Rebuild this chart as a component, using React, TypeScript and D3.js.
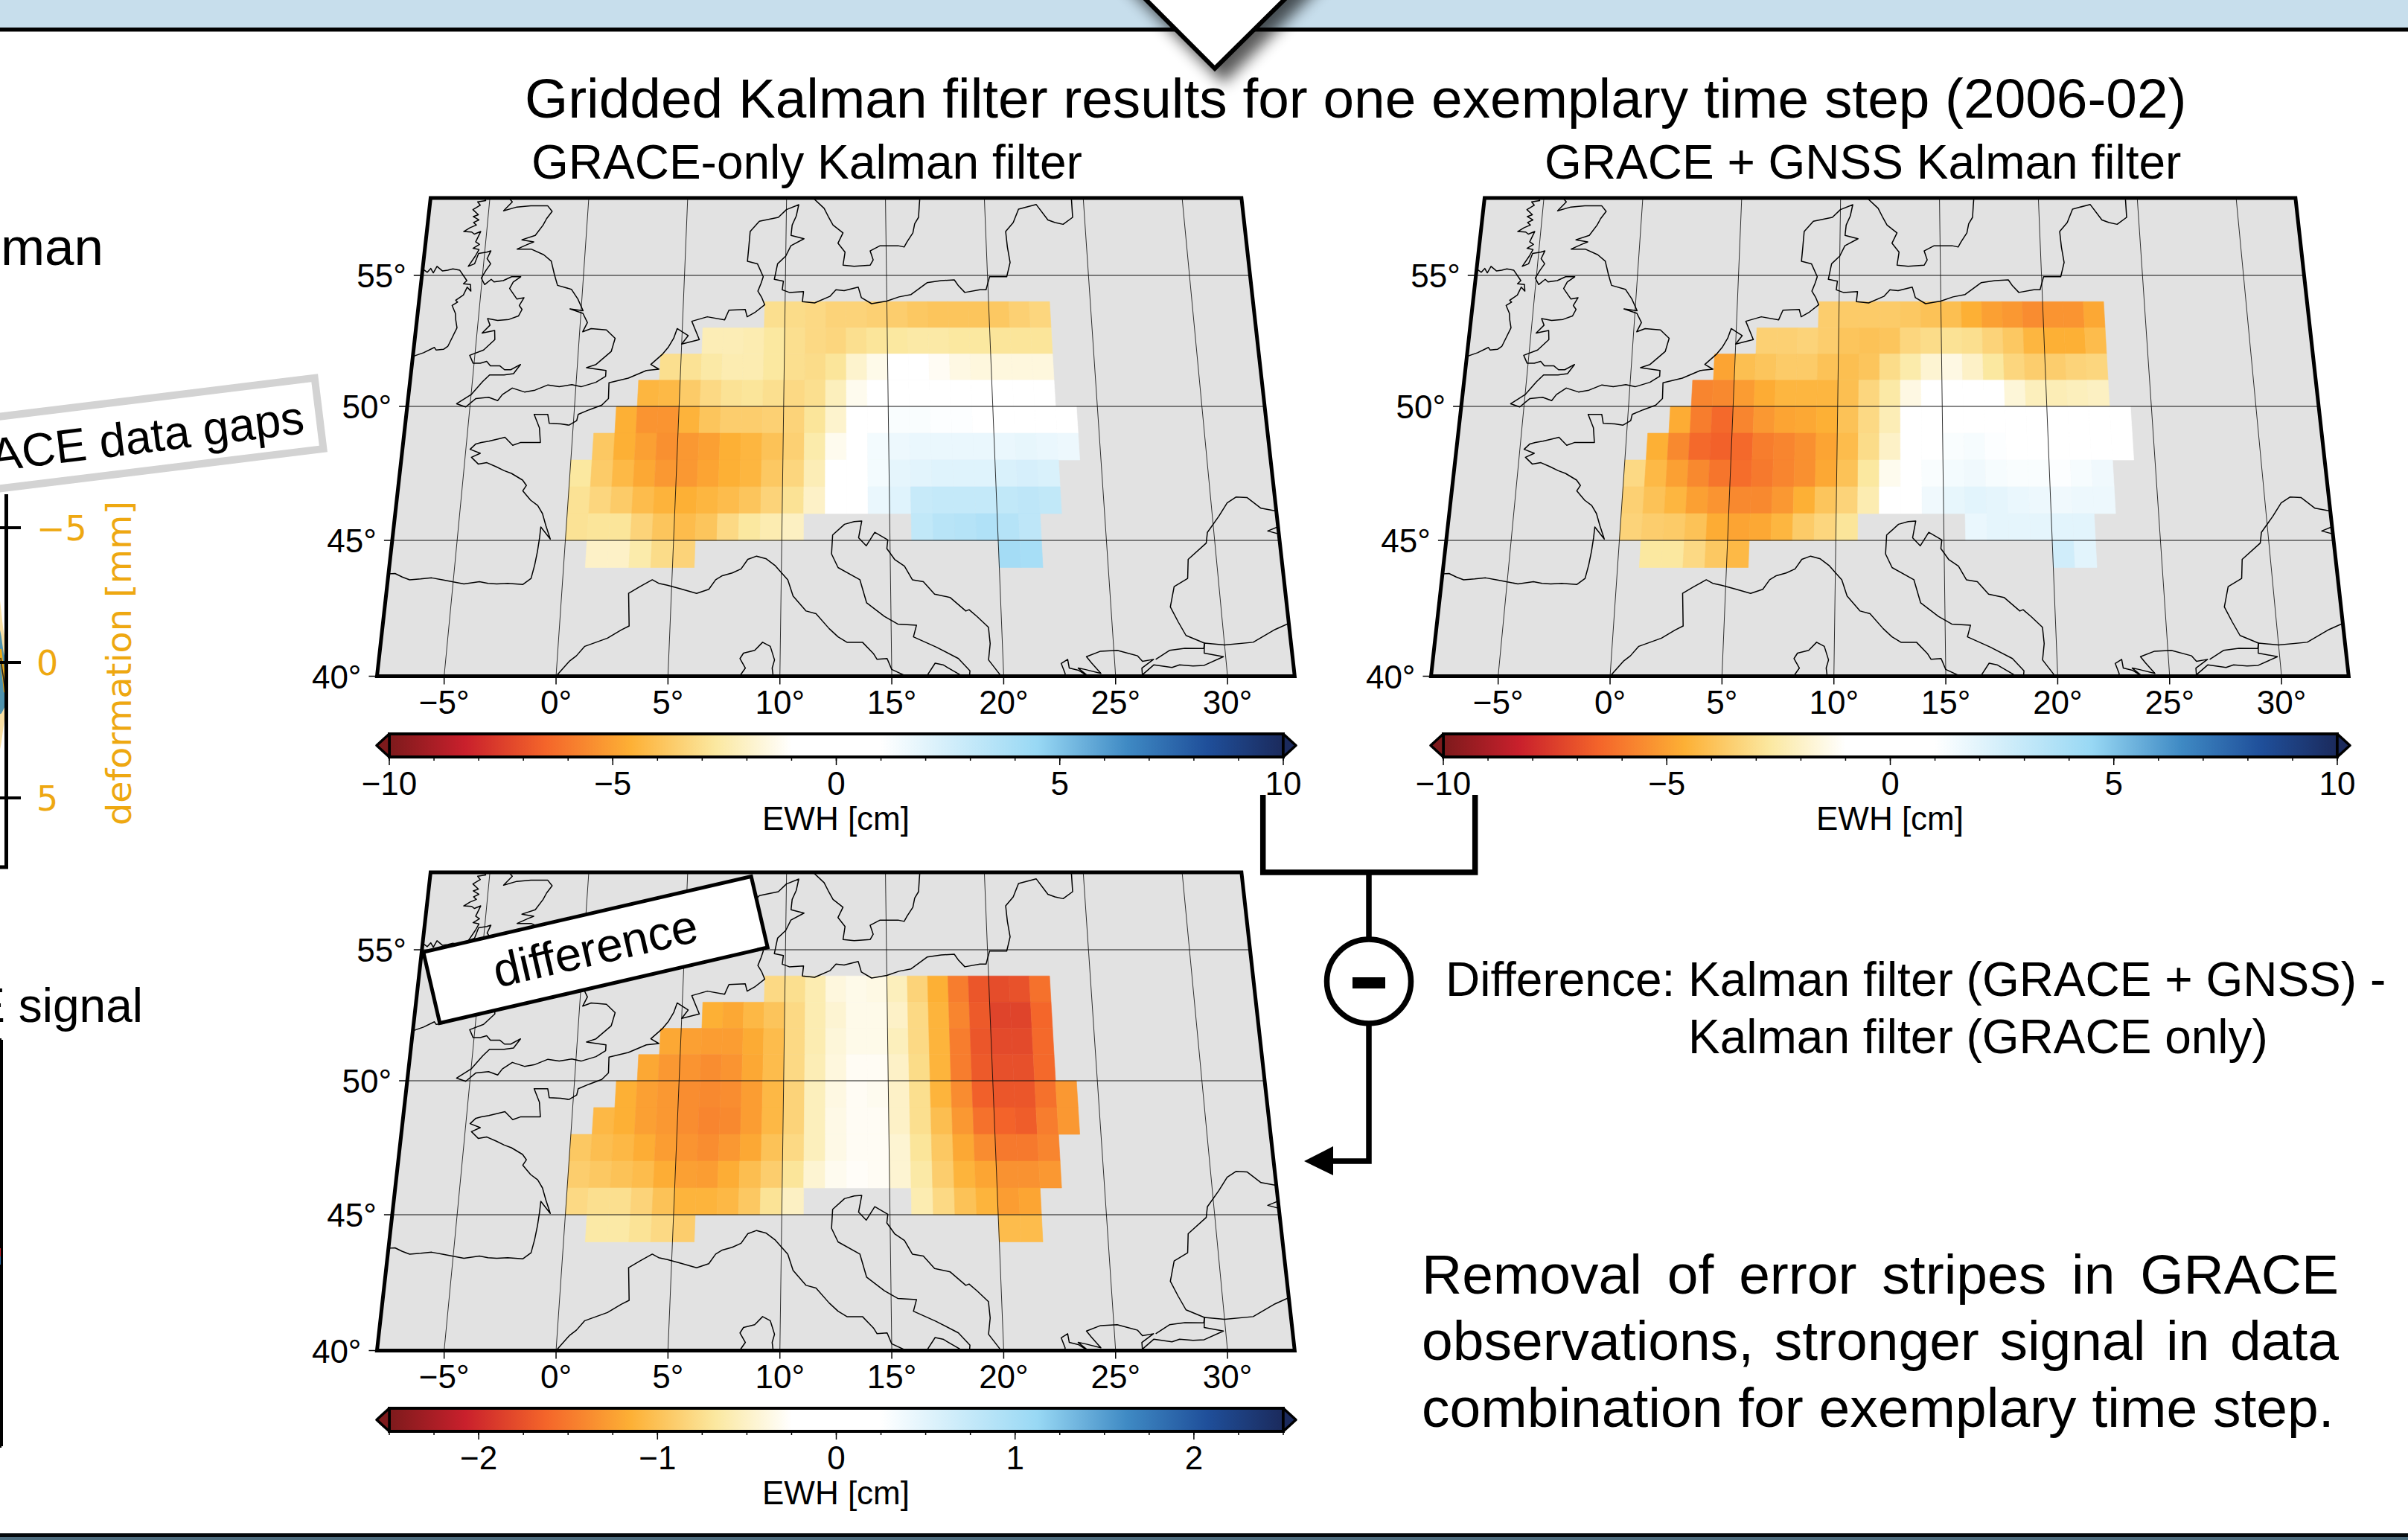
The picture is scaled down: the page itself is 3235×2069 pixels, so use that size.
import React, { useEffect, useRef } from 'react';
import * as d3 from 'd3';

const WIDTH = 3235;
const HEIGHT = 2069;
const FONT = '"Liberation Sans", Arial, sans-serif';

// map axes
const lonTicks = [-5, 0, 5, 10, 15, 20, 25, 30];
const latTicks = [55, 50, 45, 40];
const lonRange = [-8, 33];
const latTop = 58;

// colour table, values for the +-10 cm bar
const cptValues = [-10, -8.3, -6.5, -4.6, -2.7, -1, 1, 4.5, 6.5, 8.3, 10];
const cptColors = ['#7d1a1c', '#c9202c', '#f4652a', '#fdb035', '#fbe8a0', '#ffffff', '#ffffff', '#98d8f4', '#3f8ac4', '#1f4f9a', '#1b2a5c'];

// 1 degree grid: bottom latitude of each row, and [first lon, cell count] runs
const gridLats = [53, 52, 51, 50, 49, 48, 47, 46, 45, 44];
const gridRuns = [
  [[9, 14]],
  [[6, 17]],
  [[4, 19]],
  [[3, 20]],
  [[2, 22]],
  [[1, 23]],
  [[0, 23]],
  [[0, 23]],
  [[0, 11], [16, 6]],
  [[1, 5], [20, 2]],
];

const graceOnly = [
  [-3.0, -3.1, -3.2, -3.4, -3.4, -3.5, -3.6, -3.8, -3.9, -3.9, -3.9, -3.8, -3.5, -3.3],
  [-2.3, -2.3, -2.4, -2.7, -3.0, -3.2, -3.3, -3.0, -2.8, -2.7, -2.6, -2.6, -2.7, -2.7, -2.8, -2.8, -2.8],
  [-3.0, -2.9, -2.6, -2.4, -2.4, -2.7, -3.0, -3.1, -2.8, -1.9, -1.4, -0.9, -0.9, -1.2, -1.5, -1.6, -1.6, -1.6, -1.6],
  [-4.4, -4.3, -3.7, -3.2, -2.9, -2.8, -3.0, -3.2, -3.0, -2.2, -1.3, -0.9, -0.5, -0.3, -0.2, -0.2, -0.2, 0, 0, 0],
  [-4.6, -5.3, -5.3, -4.5, -3.9, -3.6, -3.6, -3.5, -3.4, -2.8, -1.9, -0.6, 0.5, 1.2, 1.2, 1.1, 1.1, 1.0, 0.8, 1.0, 1.0, 0.8],
  [-3.8, -4.6, -5.0, -5.4, -5.2, -5.0, -4.6, -4.4, -4.0, -3.5, -2.5, -1.3, -0.5, 1.4, 1.6, 1.7, 1.7, 1.7, 1.7, 1.7, 1.8, 1.7, 1.6],
  [-2.7, -3.7, -4.3, -4.8, -5.2, -5.2, -4.9, -4.6, -4.4, -3.8, -3.3, -2.3, 0, 0.5, 1.4, 1.9, 2.0, 2.1, 2.1, 2.1, 2.3, 2.4, 2.3],
  [-2.9, -3.3, -3.7, -4.2, -4.5, -4.6, -4.4, -4.2, -3.9, -3.4, -2.9, -2.0, 0, 0.5, 1.7, 2.1, 2.9, 3.0, 3.0, 3.0, 3.1, 3.2, 3.1],
  [-2.9, -2.8, -2.8, -3.4, -3.9, -4.2, -3.9, -3.2, -2.7, -2.4, -2.1, 3.1, 3.4, 3.5, 3.7, 3.5, 3.2],
  [-2.0, -2.0, -2.5, -3.1, -3.4, 4.1, 4.0],
];

const graceGnss = [
  [-3.6, -3.7, -3.7, -3.7, -3.8, -4.0, -4.1, -4.6, -5.0, -5.2, -5.5, -5.3, -5.3, -4.8],
  [-3.5, -3.5, -3.4, -3.6, -3.9, -4.0, -3.9, -3.3, -3.1, -2.9, -3.0, -3.4, -3.8, -4.4, -4.6, -4.6, -4.2],
  [-4.9, -4.1, -3.9, -3.7, -3.7, -4.0, -4.1, -3.9, -3.1, -2.5, -1.8, -1.5, -2.0, -2.7, -3.3, -3.6, -3.6, -3.4, -3.3],
  [-5.7, -5.6, -5.1, -4.7, -4.4, -4.4, -4.4, -4.1, -3.3, -2.6, -1.5, -0.8, -0.4, -0.5, -0.9, -1.7, -2.2, -2.3, -2.2, -2.1],
  [-4.7, -5.9, -6.4, -5.7, -5.2, -4.9, -4.8, -4.6, -4.0, -3.2, -2.3, 0, 0, 0, 0, 0, 0, 0, 0, 0, 0, 0],
  [-4.6, -5.6, -6.4, -6.6, -6.4, -5.9, -5.7, -5.4, -4.9, -4.2, -3.1, -2.0, 0, 0.2, 1.2, 1.3, 1.1, 0.3, 0, 0, 0, 0, 0],
  [-3.2, -4.3, -5.0, -5.6, -6.1, -6.3, -6.0, -5.7, -5.4, -4.8, -4.0, -2.7, -1.3, 0, 1.2, 1.4, 1.5, 1.3, 1.2, 1.2, 1.1, 1.3, 1.5],
  [-3.5, -4.0, -4.4, -5.0, -5.3, -5.6, -5.6, -5.2, -4.6, -3.9, -3.4, -2.4, 0, 0, 1.5, 1.8, 2.0, 1.9, 1.7, 1.6, 1.5, 1.6, 1.6],
  [-3.4, -3.6, -3.7, -4.0, -4.7, -4.9, -4.8, -4.4, -3.7, -3.3, -2.8, 1.7, 1.9, 1.9, 1.9, 2.0, 2.0],
  [-2.7, -2.7, -3.2, -3.8, -4.3, 2.6, 2.0],
];

const differenceGrid = [
  [-0.8, -0.75, -0.6, -0.4, -0.35, -0.37, -0.55, -0.85, -1.15, -1.47, -1.72, -1.78, -1.75, -1.55],
  [-1.15, -1.2, -1.08, -0.98, -0.8, -0.6, -0.45, -0.35, -0.35, -0.5, -0.8, -1.12, -1.42, -1.7, -1.84, -1.84, -1.62],
  [-1.2, -1.25, -1.27, -1.27, -1.18, -1.05, -0.8, -0.6, -0.42, -0.35, -0.35, -0.55, -0.8, -1.12, -1.47, -1.72, -1.8, -1.8, -1.6],
  [-1.2, -1.3, -1.33, -1.37, -1.33, -1.2, -1.05, -0.8, -0.58, -0.4, -0.3, -0.3, -0.5, -0.78, -1.12, -1.47, -1.7, -1.76, -1.76, -1.6],
  [-1.15, -1.25, -1.3, -1.37, -1.4, -1.37, -1.27, -1.08, -0.85, -0.55, -0.38, -0.3, -0.32, -0.5, -0.75, -1.12, -1.38, -1.66, -1.72, -1.72, -1.55, -1.3],
  [-1.08, -1.15, -1.25, -1.3, -1.37, -1.42, -1.4, -1.27, -1.08, -0.85, -0.55, -0.36, -0.3, -0.3, -0.5, -0.75, -1.03, -1.3, -1.55, -1.64, -1.68, -1.47, -1.3],
  [-0.95, -1.03, -1.08, -1.17, -1.27, -1.33, -1.37, -1.3, -1.2, -1.0, -0.8, -0.55, -0.36, -0.3, -0.3, -0.45, -0.7, -0.95, -1.2, -1.38, -1.5, -1.5, -1.42],
  [-0.9, -0.95, -1.0, -1.05, -1.17, -1.25, -1.27, -1.17, -1.03, -0.9, -0.7, -0.45, -0.32, -0.28, -0.3, -0.45, -0.65, -0.9, -1.12, -1.22, -1.34, -1.34, -1.3],
  [-0.8, -0.75, -0.75, -0.85, -1.0, -1.12, -1.12, -1.08, -0.95, -0.72, -0.52, -0.6, -0.8, -1.0, -1.12, -1.27, -1.22],
  [-0.65, -0.65, -0.72, -0.8, -0.9, -1.05, -1.05],
];

// coastlines, [lon, lat]
const coastIreland = [[-8.3, 55.15], [-7.9, 55.2], [-7.75, 55.12], [-7.6, 55.27], [-7.45, 55.1], [-7.3, 55.35], [-7.0, 55.17], [-6.75, 55.2], [-6.5, 55.25], [-6.15, 55.2], [-5.95, 55.0], [-5.75, 54.8], [-5.9, 54.68], [-5.55, 54.65], [-5.5, 54.4], [-5.7, 54.55], [-5.85, 54.25], [-6.2, 54.05], [-6.1, 53.98], [-6.35, 53.85], [-6.15, 53.55], [-6.1, 53.3], [-6.0, 53.0], [-6.2, 52.6], [-6.35, 52.3], [-6.55, 52.18], [-6.9, 52.15], [-7.0, 52.25], [-7.5, 52.05], [-7.85, 51.95], [-8.3, 51.8]];
const coastBritain = [[-5.35, 58.1], [-5.2, 57.9], [-5.6, 57.85], [-5.45, 57.72], [-5.8, 57.55], [-5.5, 57.35], [-5.75, 57.28], [-5.45, 57.15], [-5.7, 57.05], [-5.55, 56.95], [-5.85, 56.85], [-6.15, 56.7], [-5.75, 56.68], [-5.6, 56.6], [-5.3, 56.7], [-5.5, 56.3], [-5.3, 56.2], [-5.6, 56.05], [-5.3, 56.0], [-5.45, 55.75], [-5.75, 55.35], [-5.45, 55.45], [-5.3, 55.85], [-4.9, 55.9], [-4.7, 55.95], [-4.85, 55.65], [-4.65, 55.45], [-4.85, 55.2], [-5.05, 54.9], [-4.85, 54.65], [-4.55, 54.85], [-4.4, 54.75], [-3.95, 54.8], [-3.55, 54.95], [-3.1, 54.95], [-3.45, 54.75], [-3.6, 54.5], [-3.2, 54.1], [-2.85, 54.15], [-3.05, 53.85], [-2.9, 53.7], [-3.05, 53.45], [-3.5, 53.32], [-4.05, 53.28], [-4.55, 53.35], [-4.4, 53.1], [-4.75, 52.8], [-4.15, 52.9], [-4.1, 52.55], [-4.6, 52.15], [-5.25, 51.95], [-5.05, 51.65], [-4.7, 51.65], [-4.4, 51.72], [-4.2, 51.55], [-3.75, 51.55], [-3.5, 51.4], [-3.2, 51.4], [-2.75, 51.6], [-3.05, 51.25], [-3.5, 51.2], [-4.2, 51.2], [-4.5, 50.95], [-5.0, 50.45], [-5.65, 50.1], [-5.2, 49.98], [-4.75, 50.3], [-4.15, 50.35], [-3.7, 50.22], [-3.5, 50.45], [-3.05, 50.7], [-2.45, 50.55], [-1.95, 50.62], [-1.35, 50.82], [-0.8, 50.75], [-0.2, 50.83], [0.25, 50.75], [0.95, 50.92], [1.4, 51.15], [1.4, 51.37], [0.7, 51.45], [0.45, 51.48], [0.9, 51.6], [1.25, 51.85], [1.6, 52.1], [1.75, 52.6], [1.3, 52.92], [0.55, 52.97], [0.15, 52.85], [0.35, 53.2], [0.1, 53.55], [-0.55, 53.72], [0.1, 53.65], [-0.2, 54.1], [-0.55, 54.47], [-1.25, 54.62], [-1.45, 55.05], [-1.65, 55.55], [-2.05, 55.8], [-2.7, 56.02], [-3.4, 56.02], [-2.9, 56.2], [-2.6, 56.3], [-3.2, 56.38], [-2.55, 56.55], [-2.2, 56.95], [-2.05, 57.2], [-1.8, 57.48], [-2.05, 57.7], [-2.9, 57.7], [-3.6, 57.65], [-4.25, 57.5], [-3.85, 57.85], [-4.1, 58.05]];
const coastAtlantic = [[-8.4, 43.75], [-7.7, 43.78], [-7.35, 43.65], [-7.0, 43.55], [-6.5, 43.58], [-6.0, 43.62], [-5.5, 43.55], [-5.0, 43.47], [-4.5, 43.4], [-3.8, 43.48], [-3.4, 43.42], [-3.0, 43.4], [-2.5, 43.42], [-1.8, 43.38], [-1.45, 43.6], [-1.33, 44.1], [-1.25, 44.6], [-1.2, 45.1], [-1.18, 45.5], [-0.7, 45.05], [-0.95, 45.55], [-1.15, 46.0], [-1.4, 46.3], [-1.75, 46.5], [-2.15, 46.85], [-2.0, 47.05], [-2.2, 47.25], [-2.75, 47.5], [-3.1, 47.6], [-3.5, 47.75], [-3.95, 47.9], [-4.35, 47.85], [-4.7, 48.1], [-4.3, 48.25], [-4.8, 48.4], [-4.55, 48.6], [-4.3, 48.65], [-3.95, 48.7], [-3.55, 48.78], [-3.2, 48.85], [-2.8, 48.55], [-2.45, 48.65], [-2.1, 48.65], [-1.5, 48.65], [-1.6, 49.2], [-1.9, 49.7], [-1.25, 49.7], [-1.15, 49.37], [-0.6, 49.35], [-0.2, 49.3], [0.15, 49.47], [0.2, 49.7], [0.7, 49.87], [1.3, 50.05], [1.6, 50.3], [1.58, 50.9], [2.5, 51.08], [3.35, 51.37], [3.95, 51.42], [3.55, 51.6], [4.1, 52.0], [4.35, 52.25], [4.6, 52.6], [4.75, 52.97], [5.3, 52.7], [5.0, 52.38], [5.85, 52.55], [5.45, 53.25], [6.2, 53.42], [7.05, 53.3], [7.25, 53.67], [8.05, 53.7], [8.15, 53.42], [8.55, 53.6], [9.0, 53.88], [8.85, 54.15], [8.65, 54.4], [8.8, 54.7], [8.9, 54.95], [8.6, 55.45], [8.1, 55.55], [8.15, 56.1], [8.2, 56.7], [8.65, 57.1], [9.6, 57.25], [10.0, 57.55], [10.62, 57.74], [10.5, 57.3], [10.3, 56.95], [10.25, 56.55], [10.9, 56.42], [10.25, 56.15], [10.0, 55.75], [9.6, 55.45], [9.45, 54.85], [9.9, 54.78], [9.85, 54.45], [10.2, 54.35], [10.9, 54.38], [10.85, 54.0], [11.45, 53.95], [12.2, 54.2], [12.5, 54.45], [12.9, 54.42], [13.6, 54.55], [13.75, 54.15], [14.25, 53.92], [15.0, 54.02], [15.6, 54.18], [16.2, 54.27], [17.0, 54.72], [17.7, 54.8], [18.35, 54.83], [18.55, 54.6], [18.85, 54.35], [19.6, 54.45], [19.9, 54.45], [20.1, 54.95], [20.95, 54.95], [21.15, 55.5], [21.05, 56.1], [21.0, 56.7], [21.4, 57.05], [21.7, 57.57], [22.6, 57.75], [23.15, 57.15], [23.5, 57.05], [23.9, 56.98], [24.4, 57.25], [24.4, 58.1]];
const coastSweden = [[11.2, 58.1], [11.9, 57.6], [12.1, 57.3], [12.35, 56.95], [12.85, 56.65], [12.6, 56.25], [12.95, 55.9], [12.85, 55.4], [13.4, 55.35], [14.2, 55.4], [14.35, 55.6], [14.2, 55.95], [14.7, 56.15], [15.6, 56.15], [15.9, 56.1], [16.05, 56.3], [16.35, 56.65], [16.45, 57.0], [16.65, 57.25], [16.7, 57.7], [16.75, 58.1]];
const coastLigurian = [[-0.2, 39.7], [0.0, 40.0], [0.55, 40.55], [0.85, 40.75], [1.2, 41.1], [1.7, 41.25], [2.2, 41.4], [2.8, 41.7], [3.15, 41.85], [3.1, 42.45], [3.05, 43.05], [3.55, 43.3], [4.1, 43.55], [4.4, 43.42], [4.8, 43.35], [5.4, 43.22], [6.15, 43.05], [6.7, 43.2], [7.0, 43.55], [7.3, 43.7], [7.75, 43.8], [8.15, 43.95], [8.45, 44.3], [8.85, 44.42], [9.3, 44.32], [9.7, 44.08], [10.3, 43.55], [10.55, 42.95], [11.15, 42.4], [11.6, 42.3], [12.2, 41.75], [12.6, 41.45], [13.0, 41.25], [13.7, 41.25], [14.2, 40.82], [14.35, 40.62], [14.8, 40.65], [15.0, 40.25], [15.65, 40.0], [15.75, 39.8]];
const coastAdriatic = [[16.55, 39.8], [16.6, 40.05], [16.95, 40.48], [17.3, 40.42], [18.0, 40.08], [18.4, 39.85]];
const coastItalyEast = [[18.45, 39.85], [18.5, 40.2], [18.0, 40.65], [17.0, 41.08], [16.0, 41.45], [16.15, 41.88], [15.3, 41.92], [14.7, 42.2], [13.9, 42.7], [13.6, 43.55], [12.6, 44.0], [12.3, 44.5], [12.35, 45.2], [12.9, 45.6], [13.35, 45.7], [13.7, 45.72], [13.55, 45.1], [13.9, 44.8], [14.3, 45.3], [14.9, 45.02], [14.85, 44.7], [15.2, 44.3], [15.65, 44.05], [16.0, 43.55], [16.5, 43.48], [17.0, 43.02], [17.7, 42.9], [18.4, 42.4], [18.55, 42.45], [18.9, 42.2], [19.4, 41.8], [19.45, 41.2], [19.35, 40.6], [19.8, 40.1], [20.1, 39.7]];
const coastSardinia = [[8.2, 40.0], [8.45, 40.3], [8.2, 40.65], [8.35, 40.85], [8.85, 40.95], [9.2, 41.25], [9.55, 41.1], [9.75, 40.6], [9.65, 40.3], [9.7, 40.0]];
const coastAegean = [[22.7, 39.8], [22.75, 40.1], [22.6, 40.47], [22.9, 40.62], [22.95, 40.3], [23.35, 40.22], [23.85, 39.95], [23.35, 40.3], [23.65, 40.25], [24.35, 40.1], [23.95, 40.5], [23.75, 40.72], [24.4, 40.92], [25.15, 40.95], [26.05, 40.75], [26.25, 40.55], [26.75, 40.62], [26.2, 40.3], [26.2, 39.8]];
const coastMarmara = [[26.2, 40.05], [26.75, 40.42], [27.55, 40.32], [27.9, 40.42], [28.5, 40.38], [29.0, 40.4], [29.9, 40.72], [29.05, 40.85], [29.1, 41.22], [30.0, 41.15], [31.3, 41.25], [32.35, 41.72], [33.3, 42.05]];
const coastThrace = [[26.85, 40.62], [27.5, 40.95], [28.2, 41.03], [29.05, 41.02], [29.1, 41.22], [28.3, 41.5], [28.0, 42.0], [27.7, 42.55], [27.95, 43.3], [28.6, 43.6], [28.7, 44.3], [29.6, 44.9], [29.7, 45.3], [30.3, 45.9], [30.75, 46.4], [31.2, 46.62], [31.7, 46.6], [32.3, 46.2], [33.3, 46.05]];
const coastCrimea = [[33.4, 45.9], [33.0, 45.95], [33.3, 45.6], [32.5, 45.35], [33.4, 45.15]];
const coastlines = [coastIreland, coastBritain, coastAtlantic, coastSweden, coastLigurian, coastAdriatic, coastItalyEast, coastSardinia, coastAegean, coastMarmara, coastThrace, coastCrimea];

// fragments of the neighbouring figure at the left edge
const deformationTicks = [-5, 0, 5];
const edgeTimes = [0, 0.25, 0.5, 0.75, 1];
const edgeAmberLow = [-2.3, -1.9, -1.4, -1.1, -0.9];
const edgeAmberHigh = [3.2, 3.0, 2.6, 2.3, 1.9];
const edgeTealLow = [-1.2, -1.0, -0.6, -0.3, -0.2];
const edgeTealHigh = [1.9, 1.9, 1.8, 1.7, 1.6];
const edgeSeries = [-0.5, -0.1, 0.2, 0.6, 1.1];

const justified = [
  { text: 'Removal of error stripes in GRACE', y: 1738, width: 1232 },
  { text: 'observations, stronger signal in data', y: 1827, width: 1232 },
];

function makeProjection(dx: number, dy: number) {
  const yScale = d3.scaleLinear().domain([40, 45, 50, 55, latTop]).range([908.5, 726, 546, 370, 266]);
  const kScale = d3.scaleLinear().domain([266, 908.5]).range([26.57, 30.07]);
  return (p: number[]): [number, number] => {
    const y = yScale(p[1]);
    return [1125 + (p[0] - 12.57) * kScale(y) + dx, y + dy];
  };
}

const line = d3.line();

function Justified({ text, y, width }: { text: string; y: number; width: number }) {
  const ref = useRef<SVGTextElement>(null);
  useEffect(() => {
    const el = ref.current;
    if (!el) return;
    const spaces = text.split(' ').length - 1;
    el.style.wordSpacing = (width - el.getComputedTextLength()) / spaces + 'px';
  }, [text, width]);
  return (
    <text ref={ref} x={1910} y={y} fontSize={75}>
      {text}
    </text>
  );
}

function MapPanel({ id, dx, dy, grid, scale, barTicks, barMinor }: any) {
  const project = makeProjection(dx, dy);
  const color = d3
    .scaleLinear<string>()
    .domain(cptValues.map((v) => v * scale))
    .range(cptColors)
    .clamp(true);

  const frame = [
    project([lonRange[0], 40]),
    project([lonRange[1], 40]),
    project([lonRange[1], latTop]),
    project([lonRange[0], latTop]),
  ];
  const framePath = line(frame) + 'Z';

  const cells: any[] = [];
  gridLats.forEach((lat, r) => {
    let i = 0;
    gridRuns[r].forEach(([start, count]) => {
      d3.range(count).forEach((c) => {
        const lon = start + c;
        cells.push({
          key: lat + '_' + lon,
          fill: color(grid[r][i]),
          d: line([project([lon, lat]), project([lon + 1, lat]), project([lon + 1, lat + 1]), project([lon, lat + 1])]) + 'Z',
        });
        i += 1;
      });
    });
  });

  const barX = d3.scaleLinear().domain([-10 * scale, 10 * scale]).range([523 + dx, 1724 + dx]);
  const barY0 = 986 + dy;
  const barY1 = 1017 + dy;
  const minorTicks = d3.range(-10 * scale, 10 * scale + 1e-6, barMinor);
  const leftEnd = barX.range()[0];
  const rightEnd = barX.range()[1];

  return (
    <g>
      <defs>
        <clipPath id={'clip' + id}>
          <path d={framePath} />
        </clipPath>
        <linearGradient id={'bar' + id} x1="0" x2="1" y1="0" y2="0">
          {cptValues.map((v, i) => (
            <stop key={i} offset={(v + 10) / 20} stopColor={cptColors[i]} />
          ))}
        </linearGradient>
      </defs>
      <path d={framePath} fill="#e2e2e2" />
      <g clipPath={'url(#clip' + id + ')'}>
        {cells.map((c) => (
          <path key={c.key} d={c.d} fill={c.fill} stroke={c.fill} strokeWidth={0.6} />
        ))}
        {lonTicks.map((lon) => (
          <path key={lon} d={line([project([lon, 40]), project([lon, latTop])]) as string} stroke="#000" strokeWidth={0.8} fill="none" />
        ))}
        {latTicks.slice(0, 3).map((lat) => (
          <path key={lat} d={line([project([lonRange[0], lat]), project([lonRange[1], lat])]) as string} stroke="#111" strokeWidth={1.2} fill="none" />
        ))}
        {coastlines.map((c, i) => (
          <path key={i} d={line(c.map(project)) as string} fill="none" stroke="#000" strokeWidth={1.5} strokeLinejoin="round" />
        ))}
      </g>
      <path d={framePath} fill="none" stroke="#000" strokeWidth={5} />
      {lonTicks.map((lon) => {
        const [x, y] = project([lon, 40]);
        return (
          <g key={lon}>
            <line x1={x} x2={x} y1={y} y2={y + 11} stroke="#000" strokeWidth={1.5} />
            <text x={x} y={y + 50} textAnchor="middle" fontSize={44}>
              {(lon < 0 ? '\u2212' + Math.abs(lon) : lon) + '°'}
            </text>
          </g>
        );
      })}
      {latTicks.map((lat) => {
        const [x, y] = project([lonRange[0], lat]);
        return (
          <g key={lat}>
            <line x1={x - 11} x2={x} y1={y} y2={y} stroke="#000" strokeWidth={1.5} />
            <text x={x - 21} y={y + 16} textAnchor="end" fontSize={44}>
              {lat + '°'}
            </text>
          </g>
        );
      })}

      {/* colour bar */}
      <rect x={leftEnd} y={barY0} width={rightEnd - leftEnd} height={barY1 - barY0} fill={'url(#bar' + id + ')'} stroke="#000" strokeWidth={4} />
      <path d={`M${leftEnd},${barY0}L${leftEnd - 17},${(barY0 + barY1) / 2}L${leftEnd},${barY1}Z`} fill={cptColors[0]} stroke="#000" strokeWidth={3.5} strokeLinejoin="round" />
      <path d={`M${rightEnd},${barY0}L${rightEnd + 17},${(barY0 + barY1) / 2}L${rightEnd},${barY1}Z`} fill={cptColors[cptColors.length - 1]} stroke="#000" strokeWidth={3.5} strokeLinejoin="round" />
      {minorTicks.map((t, i) => (
        <line key={i} x1={barX(t)} x2={barX(t)} y1={barY1} y2={barY1 + 5} stroke="#000" strokeWidth={1.5} />
      ))}
      {barTicks.map((t: number) => (
        <g key={t}>
          <line x1={barX(t)} x2={barX(t)} y1={barY1} y2={barY1 + 11} stroke="#000" strokeWidth={1.5} />
          <text x={barX(t)} y={barY1 + 51} textAnchor="middle" fontSize={44}>
            {t < 0 ? '\u2212' + Math.abs(t) : t}
          </text>
        </g>
      ))}
      <text x={1123 + dx} y={1115 + dy} textAnchor="middle" fontSize={44}>
        EWH [cm]
      </text>
    </g>
  );
}

function EdgeFragments() {
  const yDef = d3.scaleLinear().domain([-5, 0, 5]).range([709, 890, 1072]);
  const xEdge = d3.scaleLinear().domain([0, 1]).range([0, 7]);
  const band = (low: number[], high: number[]) =>
    d3
      .area<number>()
      .x((t) => xEdge(t))
      .y0((_, i) => yDef(low[i]))
      .y1((_, i) => yDef(high[i]))
      .curve(d3.curveBasis)(edgeTimes) as string;
  const series = d3
    .line<number>()
    .x((t) => xEdge(t))
    .y((_, i) => yDef(edgeSeries[i]))(edgeTimes) as string;
  return (
    <g>
      <path d={band(edgeAmberLow, edgeAmberHigh)} fill="#f8dfa4" />
      <path d={band(edgeTealLow, edgeTealHigh)} fill="#4f93ad" />
      <path d={series} fill="none" stroke="#eea811" strokeWidth={4} />
      <path d={series} fill="none" stroke="#222" strokeWidth={1.5} transform="translate(1,12)" />
      <path d="M8.5,664V1165H-5" fill="none" stroke="#000" strokeWidth={5} />
      {deformationTicks.map((t) => (
        <line key={t} x1={-2} x2={28} y1={yDef(t)} y2={yDef(t)} stroke="#000" strokeWidth={4} />
      ))}
      <g fill="#eea811" fontFamily='"DejaVu Sans"' fontSize={46}>
        {deformationTicks.map((t) => (
          <text key={t} x={49} y={yDef(t) + 17}>
            {t < 0 ? '\u2212' + Math.abs(t) : t}
          </text>
        ))}
        <text transform="translate(176,1109) rotate(-90)" textLength={436} lengthAdjust="spacingAndGlyphs">
          deformation [mm]
        </text>
      </g>
      <path d="M2,1397V1943" stroke="#000" strokeWidth={4} fill="none" />
      <path d="M2,1397H-4M2,1943H-4" stroke="#000" strokeWidth={4} fill="none" />
      <path d="M0,1677V1688" stroke="#c9202c" strokeWidth={2} fill="none" />
      <path d="M0,1688V1699" stroke="#2a6fa8" strokeWidth={2} fill="none" />
    </g>
  );
}

export default function App() {
  return (
    <svg width={WIDTH} height={HEIGHT} viewBox={`0 0 ${WIDTH} ${HEIGHT}`} fontFamily={FONT} style={{ position: 'absolute', left: 0, top: 0, background: '#fff' }}>
      <defs>
        <filter id="shadow" x="-30%" y="-30%" width="160%" height="160%">
          <feGaussianBlur stdDeviation="10" />
        </filter>
      </defs>

      {/* header band */}
      <rect x={0} y={0} width={WIDTH} height={38} fill="#c7deec" />
      <rect x={0} y={41} width={WIDTH} height={2} fill="#888" />
      <polygon points="1484,-56 1632,92 1780,-56" fill="#000" opacity={0.65} filter="url(#shadow)" transform="translate(12,20)" />
      <rect x={0} y={37} width={WIDTH} height={5} fill="#000" />
      <polygon points="1530,-10 1632,92 1735,-10" fill="#fff" stroke="#000" strokeWidth={6} strokeLinejoin="miter" />

      {/* bottom band */}
      <rect x={0} y={2060} width={WIDTH} height={9} fill="#4f6e80" />
      <rect x={0} y={2060} width={WIDTH} height={5} fill="#05090c" />

      <text x={705} y={158} fontSize={74.8}>
        Gridded Kalman filter results for one exemplary time step (2006-02)
      </text>
      <text x={714} y={240} fontSize={64}>
        GRACE-only Kalman filter
      </text>
      <text x={2075} y={240} fontSize={64}>
        GRACE + GNSS Kalman filter
      </text>

      <MapPanel id="a" dx={0} dy={0} grid={graceOnly} scale={1} barTicks={[-10, -5, 0, 5, 10]} barMinor={1} />
      <MapPanel id="b" dx={1416} dy={0} grid={graceGnss} scale={1} barTicks={[-10, -5, 0, 5, 10]} barMinor={1} />
      <MapPanel id="c" dx={0} dy={906} grid={differenceGrid} scale={0.25} barTicks={[-2, -1, 0, 1, 2]} barMinor={0.25} />

      {/* difference label */}
      <g transform="translate(800,1276) rotate(-13)">
        <rect x={-226} y={-49} width={452} height={98} fill="#fff" stroke="#000" strokeWidth={5} />
        <text x={0} y={20} textAnchor="middle" fontSize={64}>
          difference
        </text>
      </g>

      {/* connector */}
      <path d="M1696.7,1068V1172H1981.7V1068M1839,1172V1262M1839,1375V1560H1785" fill="none" stroke="#000" strokeWidth={7.5} />
      <circle cx={1839} cy={1318.5} r={56.5} fill="#fff" stroke="#000" strokeWidth={7.5} />
      <rect x={1817} y={1313} width={44} height={15} fill="#000" />
      <polygon points="1752,1560 1791,1540 1791,1579" fill="#000" />

      <text x={1942} y={1338} fontSize={64}>
        Difference: Kalman filter (GRACE + GNSS) -
      </text>
      <text x={2268} y={1415} fontSize={64}>
        Kalman filter (GRACE only)
      </text>

      {justified.map((j) => (
        <Justified key={j.text} {...j} />
      ))}
      <text x={1910} y={1917} fontSize={75}>
        combination for exemplary time step.
      </text>

      {/* cut off text and boxes of the neighbouring figure */}
      <EdgeFragments />
      <text x={139} y={356} textAnchor="end" fontSize={71}>
        man
      </text>
      <text x={192} y={1373} textAnchor="end" fontSize={64}>
        E signal
      </text>
      <g transform="translate(0,610) rotate(-7)">
        <rect x={-120} y={-50} width={552} height={96} fill="#fff" stroke="#d3d3d3" strokeWidth={10} />
        <text x={411} y={22} textAnchor="end" fontSize={63}>
          ACE data gaps
        </text>
      </g>
    </svg>
  );
}
